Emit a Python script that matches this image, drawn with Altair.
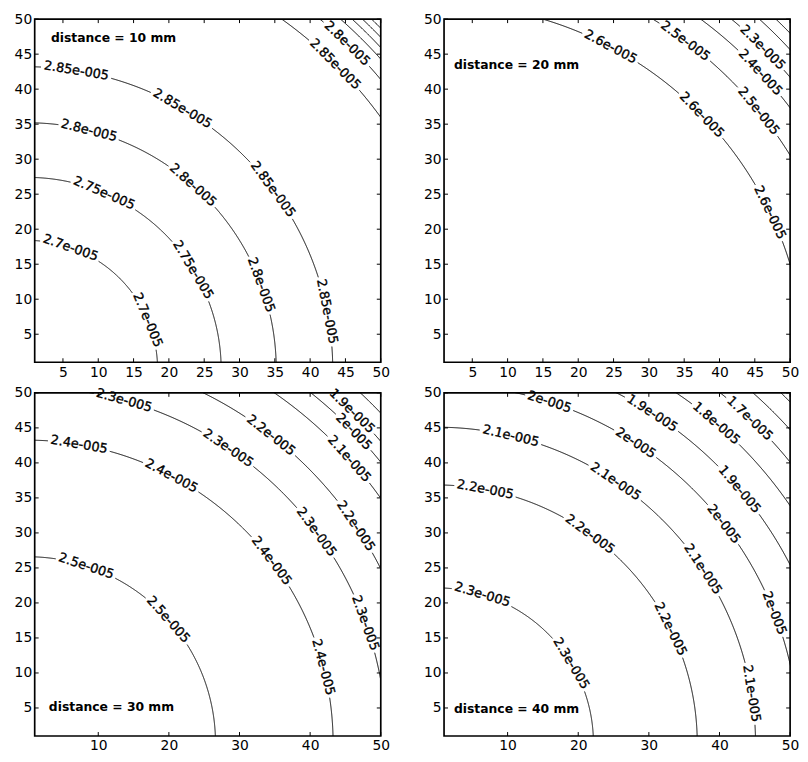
import math
import altair as alt
import pandas as pd

# ---------------- data ----------------
X_TICKS_TOP_ROW = [5, 10, 15, 20, 25, 30, 35, 40, 45, 50]
X_TICKS_BOTTOM_ROW = [10, 20, 30, 40, 50]
Y_TICKS = [5, 10, 15, 20, 25, 30, 35, 40, 45, 50]

PANEL_TITLES = ["distance = 10 mm", "distance = 20 mm", "distance = 30 mm", "distance = 40 mm"]
TITLE_X = [3.3, 2.4, 3.0, 2.4]
TITLE_Y = [47.3, 43.5, 5.1, 4.9]

# contour levels (label text), radius of each quarter-circle contour, label positions (angle in deg)
P1_LEVELS = ["2.7e-005", "2.75e-005", "2.8e-005", "2.85e-005", "2.85e-005", "2.8e-005", "", "", "", ""]
P1_RADII = [18.4, 27.4, 35.2, 43.2, 61.6, 64.9, 66.8, 67.9, 68.9, 69.8]
P1_LABEL_ANGLES = [[70.7, 22.5], [66.7, 31.2], [75.7, 48.3, 20.0], [80.8, 59.5, 36.5, 11.0],
                   [45.0], [45.8], [], [], [], []]

P2_LEVELS = ["2.6e-005", "2.5e-005", "2.4e-005", "2.3e-005", "", ""]
P2_RADII = [52.2, 58.6, 62.4, 65.1, 67.7, 69.3]
P2_LABEL_ANGLES = [[61.9, 44.1, 25.4], [53.1, 39.0], [42.8], [44.9], [], []]

P3_LEVELS = ["2.5e-005", "2.4e-005", "2.3e-005", "2.2e-005", "2.1e-005", "2e-005", "1.9e-005", ""]
P3_RADII = [26.6, 43.25, 50.8, 55.85, 61.0, 64.1, 66.0, 68.7]
P3_LABEL_ANGLES = [[71.8, 41.5], [80.3, 61.9, 37.0, 14.5], [74.4, 56.0, 36.4, 19.7],
                   [51.9, 33.7], [41.7], [43.9], [45.9], []]

P4_LEVELS = ["2.3e-005", "2.2e-005", "2.1e-005", "2e-005", "1.9e-005", "1.8e-005", "1.7e-005", "", ""]
P4_RADII = [22.15, 36.85, 45.1, 51.25, 56.1, 60.4, 64.1, 67.1, 69.8]
P4_LABEL_ANGLES = [[73.1, 30.9], [79.3, 54.0, 26.2], [76.6, 55.9, 33.4, 9.0],
                   [71.9, 56.7, 37.6, 21.2], [57.1, 40.2], [49.1], [46.3], [], []]

# ---------------- styling ----------------
FONT = "DejaVu Sans"
W, H = 350, 347
DOMAIN = [1, 50]
LABEL_SIZE = 13
TICK_FONT = 14
TITLE_SIZE = 12.5
TICK_LEN = 4
PX_PER_UNIT = W / (DOMAIN[1] - DOMAIN[0])
CHAR_W = {".": 0.318, "-": 0.361, "e": 0.615}


def text_len(s):
    return sum(CHAR_W.get(c, 0.636) for c in s) * LABEL_SIZE


def contour_frames(levels, radii, label_angles):
    line_rows, label_rows = [], []
    seg = 0
    for lev, r, angs in zip(levels, radii, label_angles):
        gaps = []
        for a in angs:
            half = (text_len(lev) / 2 + 2.5) / (PX_PER_UNIT * r)
            t = math.radians(a)
            gaps.append((t - half, t + half))
            label_rows.append({"x": r * math.cos(t), "y": r * math.sin(t),
                               "text": lev, "ang": 90 - a})
        n = 900
        prev = False
        for i in range(n + 1):
            t = math.pi / 2 * i / n
            x, y = r * math.cos(t), r * math.sin(t)
            ok = (-1 <= x <= 52) and (-1 <= y <= 52) and not any(g0 < t < g1 for g0, g1 in gaps)
            if ok:
                if not prev:
                    seg += 1
                line_rows.append({"x": x, "y": y, "seg": seg, "ord": i})
            prev = ok
    return pd.DataFrame(line_rows), pd.DataFrame(label_rows)


def panel(levels, radii, label_angles, xticks, title, tx, ty):
    lines, labels = contour_frames(levels, radii, label_angles)
    xs = alt.Scale(domain=DOMAIN, nice=False, zero=False)
    ys = alt.Scale(domain=DOMAIN, nice=False, zero=False)

    def X(field):
        return alt.X(field, type="quantitative", scale=xs, title=None,
                     axis=alt.Axis(values=xticks, labelOverlap=False, labelFlush=False,
                                   labelFontSize=TICK_FONT, labelFont=FONT, labelColor="black",
                                   ticks=False, domain=False, grid=False, labelPadding=3))

    def Y(field):
        return alt.Y(field, type="quantitative", scale=ys, title=None,
                     axis=alt.Axis(values=Y_TICKS, labelOverlap=False, labelFlush=False,
                                   labelFontSize=TICK_FONT, labelFont=FONT, labelColor="black",
                                   ticks=False, domain=False, grid=False, labelPadding=3))

    line_layer = alt.Chart(lines).mark_line(color="black", strokeWidth=1, clip=True).encode(
        x=X("x"), y=Y("y"), detail="seg:N", order="ord:Q",
    )
    label_layer = alt.Chart(labels).mark_text(
        font=FONT, fontSize=LABEL_SIZE, fill="black", stroke="black", strokeWidth=0.35,
        baseline="middle", align="center"
    ).encode(
        x=X("x"), y=Y("y"), text="text:N",
        angle=alt.Angle("ang:Q", scale=None),
    )
    xt = pd.DataFrame({"x": xticks})
    yt = pd.DataFrame({"y": Y_TICKS})
    tick_bottom = alt.Chart(xt).mark_rule(color="black", strokeWidth=1).encode(
        x=X("x"), y=alt.value(H), y2=alt.value(H - TICK_LEN))
    tick_top = alt.Chart(xt).mark_rule(color="black", strokeWidth=1).encode(
        x=X("x"), y=alt.value(0), y2=alt.value(TICK_LEN))
    tick_left = alt.Chart(yt).mark_rule(color="black", strokeWidth=1).encode(
        y=Y("y"), x=alt.value(0), x2=alt.value(TICK_LEN))
    tick_right = alt.Chart(yt).mark_rule(color="black", strokeWidth=1).encode(
        y=Y("y"), x=alt.value(W), x2=alt.value(W - TICK_LEN))
    title_layer = alt.Chart(pd.DataFrame({"x": [tx], "y": [ty], "t": [title]})).mark_text(
        font=FONT, fontSize=TITLE_SIZE, fontWeight="bold", align="left", baseline="middle", color="black"
    ).encode(x=X("x"), y=Y("y"), text="t:N")

    return alt.layer(line_layer, tick_bottom, tick_top, tick_left, tick_right,
                     label_layer, title_layer).properties(width=W, height=H)


p1 = panel(P1_LEVELS, P1_RADII, P1_LABEL_ANGLES, X_TICKS_TOP_ROW, PANEL_TITLES[0], TITLE_X[0], TITLE_Y[0])
p2 = panel(P2_LEVELS, P2_RADII, P2_LABEL_ANGLES, X_TICKS_TOP_ROW, PANEL_TITLES[1], TITLE_X[1], TITLE_Y[1])
p3 = panel(P3_LEVELS, P3_RADII, P3_LABEL_ANGLES, X_TICKS_BOTTOM_ROW, PANEL_TITLES[2], TITLE_X[2], TITLE_Y[2])
p4 = panel(P4_LEVELS, P4_RADII, P4_LABEL_ANGLES, X_TICKS_BOTTOM_ROW, PANEL_TITLES[3], TITLE_X[3], TITLE_Y[3])

chart = alt.concat(p1, p2, p3, p4, columns=2, spacing={"row": 31, "column": 64}, bounds="flush").properties(
    padding={"left": 5, "top": -1, "right": 0, "bottom": 0}, background="white"
).configure_view(stroke="black", strokeWidth=1.7).configure_axis(
    ticks=False, domain=False, grid=False, labelPadding=3, labelFontSize=TICK_FONT,
    labelFont=FONT, labelColor="black", labelOverlap=False, labelFlush=False
)

chart.save("out.html", embed_options={"renderer": "svg", "actions": False})
